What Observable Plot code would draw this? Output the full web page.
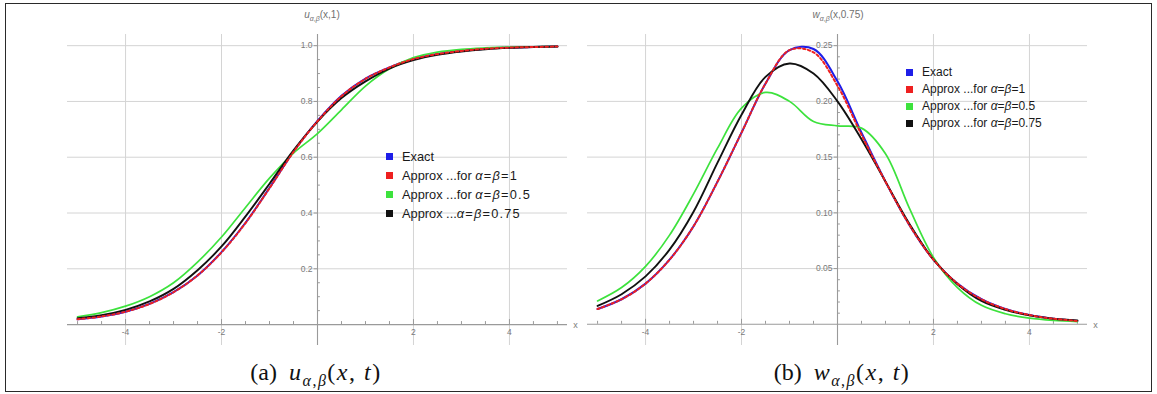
<!DOCTYPE html>
<html>
<head>
<meta charset="utf-8">
<script src="https://cdn.jsdelivr.net/npm/d3@7"></script>
<script src="https://cdn.jsdelivr.net/npm/@observablehq/plot@0.6"></script>
<style>
  body { margin: 0; background: #fff; }
  #root { position: relative; width: 1157px; height: 394px; overflow: hidden; background: #fff; font-family: "Liberation Sans", Arial, sans-serif; }
  .abs { position: absolute; }
  .frame { left: 5px; top: 3px; width: 1145px; height: 387px; border: 1.5px solid #2a2a2a; }
  .ylab { font-size: 10px; color: #707070; white-space: nowrap; transform: translateX(-50%); }
  .ylab sub { font-size: 7px; }
  .legend { white-space: nowrap; color: #1a1a1a; }
  .legend .row { display: flex; align-items: center; }
  .legend .sw { display: inline-block; width: 7px; height: 7px; }
  .legend .mm { letter-spacing: 1.2px; }
  .cap { font-family: "Liberation Serif", "DejaVu Serif", serif; font-size: 24px; line-height: 28px; color: #111; white-space: nowrap; transform: translateX(-50%); }
  .cap sub { font-size: 16px; }
  .cap .m { letter-spacing: 1.5px; }
</style>
</head>
<body>
<div id="root">
  <div id="left" class="abs" style="left:0;top:0"></div>
  <div id="right" class="abs" style="left:578px;top:0"></div>
  <div class="abs frame"></div>
  <div class="abs ylab" style="left:322px;top:9px"><i>u</i><sub><i>α</i>,<i>β</i></sub>(x,1)</div>
  <div class="abs ylab" style="left:838px;top:9px"><i>w</i><sub><i>α</i>,<i>β</i></sub>(x,0.75)</div>
  <div id="legL" class="abs legend" style="left:386px;top:147px;font-size:12.8px;line-height:19px"></div>
  <div id="legR" class="abs legend" style="left:906px;top:64px;font-size:12px;line-height:17px"></div>
  <div class="abs cap" style="left:316px;top:358px">(a)&nbsp;&nbsp;<span class="m"><i>u</i><sub><i>α</i>,<i>β</i></sub>(<i>x</i>, <i>t</i>)</span></div>
  <div class="abs cap" style="left:842px;top:358px">(b)&nbsp;&nbsp;<span class="m"><i>w</i><sub><i>α</i>,<i>β</i></sub>(<i>x</i>, <i>t</i>)</span></div>
</div>
<script>
// ---------- data ----------
const xs = [-5, -4.5, -4, -3.5, -3, -2.5, -2, -1.5, -1, -0.5, 0, 0.5, 1, 1.5, 2, 2.5, 3, 3.5, 4, 4.5, 5];

// panel (a): u(x,1)
const uExact  = [0.019, 0.029, 0.046, 0.074, 0.116, 0.176, 0.260, 0.365, 0.490, 0.620, 0.730, 0.820, 0.882, 0.922, 0.952, 0.970, 0.981, 0.989, 0.993, 0.995, 0.997];
const uAlpha1 = [0.019, 0.029, 0.046, 0.074, 0.116, 0.176, 0.259, 0.364, 0.489, 0.619, 0.729, 0.819, 0.881, 0.922, 0.952, 0.970, 0.981, 0.989, 0.993, 0.995, 0.997];
const uAlpha05  = [0.028, 0.043, 0.066, 0.100, 0.150, 0.224, 0.314, 0.420, 0.525, 0.615, 0.685, 0.770, 0.855, 0.917, 0.957, 0.977, 0.987, 0.992, 0.995, 0.996, 0.997];
const uAlpha075 = [0.023, 0.034, 0.053, 0.083, 0.128, 0.195, 0.280, 0.388, 0.505, 0.625, 0.728, 0.812, 0.872, 0.918, 0.948, 0.967, 0.979, 0.987, 0.992, 0.995, 0.997];

// panel (b): w(x,0.75)
const wExact  = [0.0137, 0.0225, 0.0365, 0.058, 0.088, 0.128, 0.172, 0.216, 0.246, 0.247, 0.218, 0.172, 0.128, 0.089, 0.058, 0.0365, 0.0225, 0.0137, 0.0083, 0.005, 0.003];
const wAlpha1 = [0.0137, 0.0225, 0.0365, 0.058, 0.088, 0.128, 0.172, 0.216, 0.246, 0.244, 0.214, 0.170, 0.128, 0.089, 0.058, 0.0365, 0.0225, 0.0137, 0.0083, 0.005, 0.003];
const wAlpha05  = [0.021, 0.033, 0.052, 0.080, 0.117, 0.158, 0.194, 0.208, 0.200, 0.182, 0.178, 0.176, 0.153, 0.104, 0.060, 0.033, 0.017, 0.0095, 0.0055, 0.0035, 0.0025];
const wAlpha075 = [0.0165, 0.027, 0.043, 0.067, 0.101, 0.145, 0.188, 0.222, 0.234, 0.225, 0.200, 0.166, 0.128, 0.090, 0.058, 0.036, 0.021, 0.013, 0.008, 0.005, 0.0035];

// axes / ticks
const xDomain = [-5.21, 5.21];
const xGrid = [-4, -2, 2, 4];
const xTickLabels = ["-4", "-2", "2", "4"];
const xMinor = [-5, -4.5, -3.5, -3, -2.5, -1.5, -1, -0.5, 0.5, 1, 1.5, 2.5, 3, 3.5, 4.5, 5];

const uDomain = [-0.075, 1.04];
const uGrid = [0.2, 0.4, 0.6, 0.8, 1.0];
const uTickLabels = ["0.2", "0.4", "0.6", "0.8", "1.0"];
const uMinor = [0.05, 0.1, 0.15, 0.25, 0.3, 0.35, 0.45, 0.5, 0.55, 0.65, 0.7, 0.75, 0.85, 0.9, 0.95];

const wDomain = [-0.019, 0.26];
const wGrid = [0.05, 0.10, 0.15, 0.20, 0.25];
const wTickLabels = ["0.05", "0.10", "0.15", "0.20", "0.25"];
const wMinor = [0.01, 0.02, 0.03, 0.04, 0.06, 0.07, 0.08, 0.09, 0.11, 0.12, 0.13, 0.14, 0.16, 0.17, 0.18, 0.19, 0.21, 0.22, 0.23, 0.24];

const seriesNames = ["Exact", "Approx1", "Approx05", "Approx075"];
const colors = { Exact: "#1e1ee8", Approx1: "#ee2020", Approx05: "#3de23d", Approx075: "#111111" };
const legendLeft = ["Exact", "Approx ...for <span class='mm'><i>α</i>=<i>β</i>=1</span>", "Approx ...for <span class='mm'><i>α</i>=<i>β</i>=0.5</span>", "Approx ...<span class='mm'><i>α</i>=<i>β</i>=0.75</span>"];
const legendRight = ["Exact", "Approx ...for <i>α</i>=<i>β</i>=1", "Approx ...for <i>α</i>=<i>β</i>=0.5", "Approx ...for <i>α</i>=<i>β</i>=0.75"];

// ---------- build ----------
function rows(values) { return xs.map((x, i) => ({ x, y: values[i] })); }

function panel({ series, yDomain, yGrid, yLabels, yMinor, width, marginLeft, marginRight }) {
  const height = 394, marginTop = 34, marginBottom = 49;
  const plotH = height - marginTop - marginBottom;
  const perPx = (yDomain[1] - yDomain[0]) / plotH; // data units per pixel, for tick lengths
  const gridC = "#d4d4d4", axisC = "#9a9a9a", labC = "#7a7a7a";
  const line = (vals, opts) => Plot.line(rows(vals), { x: "x", y: "y", curve: "catmull-rom", ...opts });
  return Plot.plot({
    width, height, marginTop, marginBottom, marginLeft, marginRight,
    style: { fontFamily: "Liberation Sans, Arial, sans-serif", background: "transparent" },
    x: { domain: xDomain, axis: null },
    y: { domain: yDomain, axis: null },
    marks: [
      Plot.ruleX(xGrid, { stroke: gridC, strokeWidth: 1 }),
      Plot.ruleY(yGrid, { stroke: gridC, strokeWidth: 1 }),
      Plot.ruleY([0], { stroke: axisC, strokeWidth: 1.1 }),
      Plot.ruleX([0], { stroke: axisC, strokeWidth: 1.1 }),
      Plot.ruleX(xMinor, { x: d => d, y1: 0, y2: 3 * perPx, stroke: axisC }),
      Plot.ruleX(xGrid, { x: d => d, y1: 0, y2: 5 * perPx, stroke: axisC }),
      Plot.link(yMinor, { x1: 0, x2: 0.05, y1: d => d, y2: d => d, stroke: axisC }),
      Plot.link(yGrid, { x1: -0.08, x2: 0, y1: d => d, y2: d => d, stroke: axisC }),
      Plot.text(xGrid, { x: d => d, y: 0, dy: 8, text: (d, i) => xTickLabels[i], fill: labC, fontSize: 8.5 }),
      Plot.text(yGrid, { x: 0, y: d => d, dx: -5, textAnchor: "end", text: (d, i) => yLabels[i], fill: labC, fontSize: 8.5 }),
      Plot.text(["x"], { x: xDomain[1], y: 0, dx: 8, dy: 1, text: d => d, fill: labC, fontSize: 9 }),
      line(series.Exact, { stroke: colors.Exact, strokeWidth: 2 }),
      line(series.Approx05, { stroke: colors.Approx05, strokeWidth: 1.7 }),
      line(series.Approx075, { stroke: colors.Approx075, strokeWidth: 1.9 }),
      line(series.Approx1, { stroke: colors.Approx1, strokeWidth: 2, strokeDasharray: "2.5,2.5" })
    ]
  });
}

document.getElementById("left").appendChild(panel({
  series: { Exact: uExact, Approx1: uAlpha1, Approx05: uAlpha05, Approx075: uAlpha075 },
  yDomain: uDomain, yGrid: uGrid, yLabels: uTickLabels, yMinor: uMinor,
  width: 578, marginLeft: 67, marginRight: 11
}));
document.getElementById("right").appendChild(panel({
  series: { Exact: wExact, Approx1: wAlpha1, Approx05: wAlpha05, Approx075: wAlpha075 },
  yDomain: wDomain, yGrid: wGrid, yLabels: wTickLabels, yMinor: wMinor,
  width: 579, marginLeft: 9, marginRight: 70
}));

function legend(el, labels) {
  el.innerHTML = labels.map((t, i) =>
    `<div class="row"><span class="sw" style="background:${colors[seriesNames[i]]}"></span><span style="margin-left:9px">${t}</span></div>`
  ).join("");
}
legend(document.getElementById("legL"), legendLeft);
legend(document.getElementById("legR"), legendRight);
</script>
</body>
</html>
